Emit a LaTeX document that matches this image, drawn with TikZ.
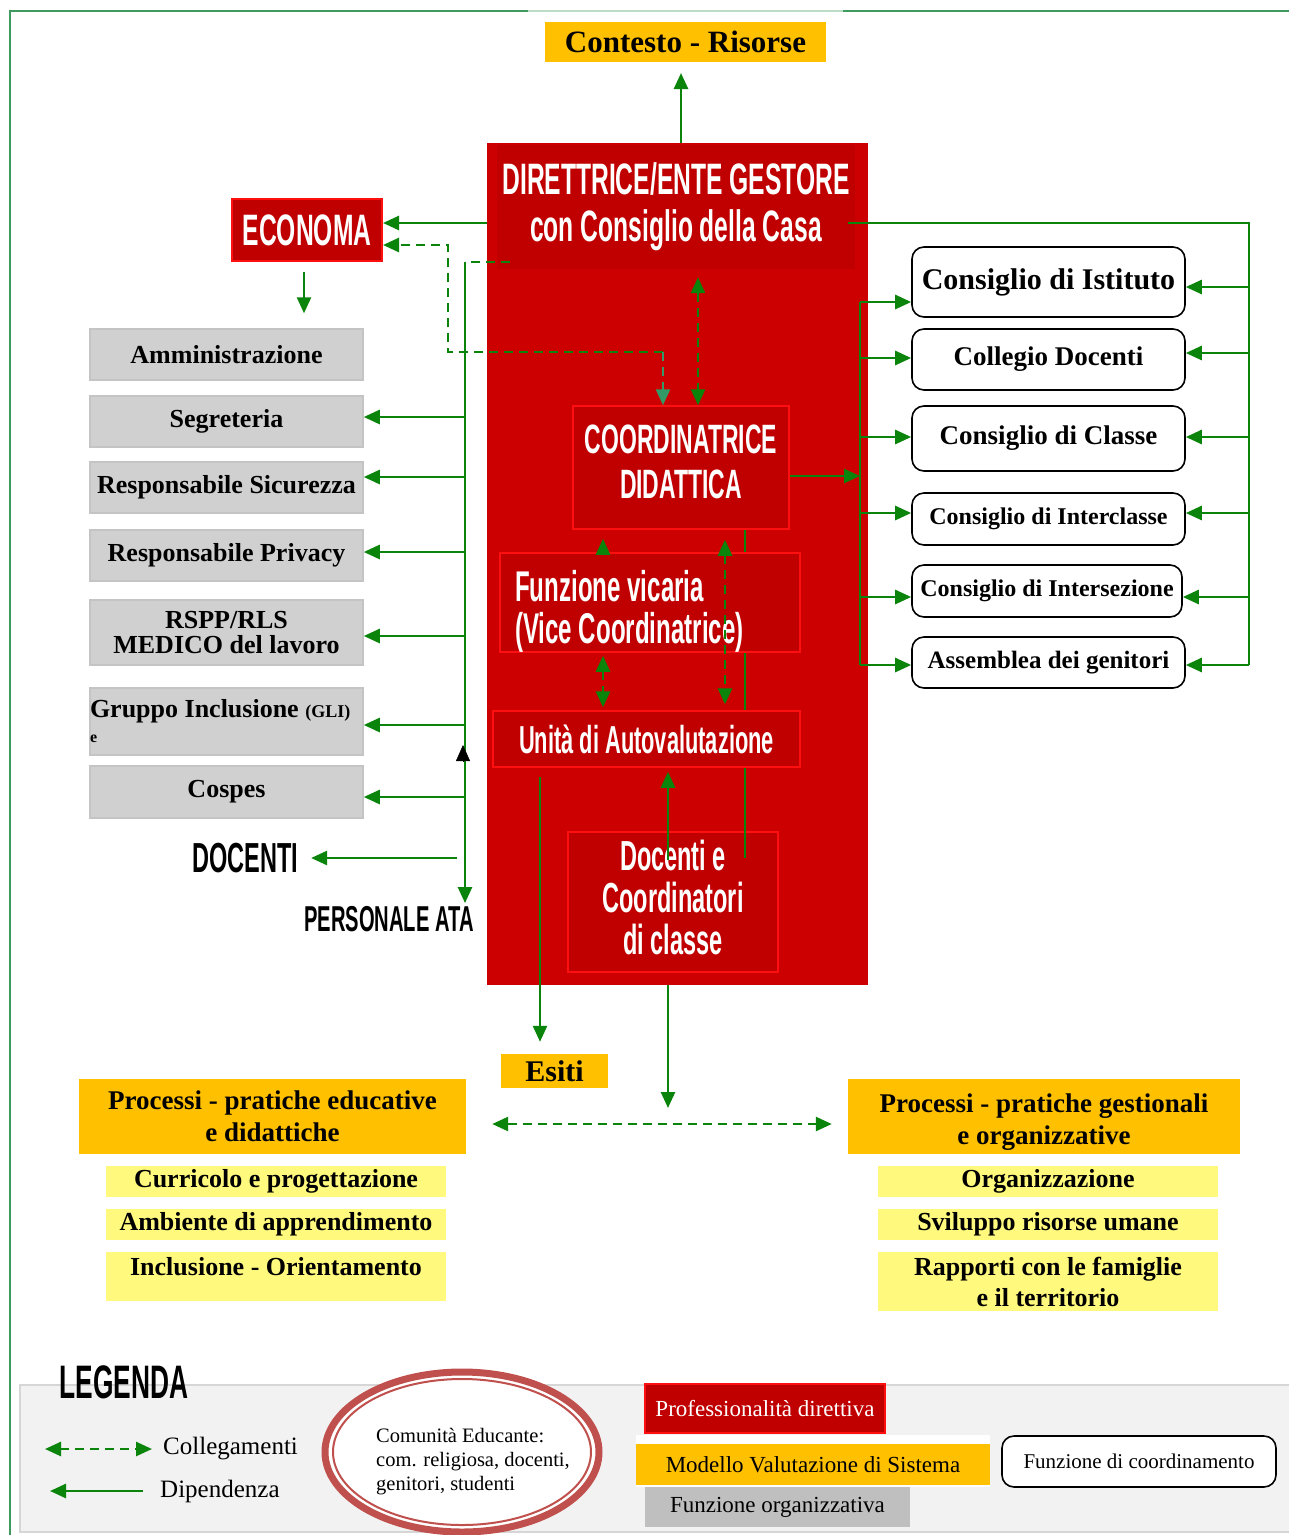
\documentclass[tikz,border=0pt]{standalone}
\usepackage{fontspec}
\setmainfont{Liberation Serif}
\newfontfamily\agency[FakeStretch=0.56]{Liberation Sans}
\usetikzlibrary{arrows.meta,positioning,shapes.geometric}
\definecolor{rossoA}{HTML}{CC0000}
\definecolor{rossoB}{HTML}{C00000}
\definecolor{rossoC}{HTML}{FF1010}
\definecolor{verde}{HTML}{0A840A}
\definecolor{verdeT}{HTML}{339966}
\definecolor{oro}{HTML}{FFC000}
\definecolor{giallo}{HTML}{FFF97E}
\definecolor{grigio}{HTML}{D0D0D0}
\definecolor{grigioB}{HTML}{C4C4C4}
\definecolor{grigioL}{HTML}{F2F2F2}
\definecolor{grigioO}{HTML}{BFBFBF}
\definecolor{cornice}{HTML}{3E9A5E}
\definecolor{cerchio}{HTML}{C0504D}
\newcommand\fsz[2]{\fontsize{#1}{#2}\selectfont}
\tikzset{
  punta/.tip={Triangle[length=16pt,width=14pt]},
  dip/.style={verde,line width=2.6pt,-punta},
  coll/.style={verde,line width=2.6pt,dash pattern=on 9pt off 6pt,punta-punta},
  filo/.style={verde,line width=2.6pt},
  rossobox/.style={fill=rossoB,draw=rossoC,line width=1.5pt,inner sep=0pt,text=white,align=center},
  bianco/.style={inner sep=0pt,text=white,align=center},
  grigiobox/.style={fill=grigio,draw=grigioB,line width=1.5pt,minimum width=273pt,inner sep=0pt,align=center,font=\fsz{26}{25}\bfseries},
  consbox/.style={draw=black,line width=1.6pt,rounded corners=12pt,fill=white,inner sep=0pt,minimum width=273pt},
  orobox/.style={fill=oro,inner sep=0pt,align=center,font=\fsz{27}{32}\bfseries},
  giallobox/.style={fill=giallo,inner sep=0pt,minimum width=340pt,align=center,font=\fsz{26}{31}\bfseries},
}
\begin{document}
\begin{tikzpicture}[x=1pt,y=-1pt]
\useasboundingbox (0,0) rectangle (1289,1535);
% cornice
\draw[cornice,line width=2.5pt] (10,1535) -- (10,11) -- (528,11);
\draw[cornice!35,line width=2.5pt] (528,11) -- (843,11);
\draw[cornice,line width=2.5pt] (843,11) -- (1289,11);

% contesto
\node[orobox,minimum width=281pt,minimum height=40pt,font=\fsz{31}{31}\bfseries] (contesto) at (685.5,42) {Contesto - Risorse};

% blocco centrale
\node[fill=rossoA,minimum width=381pt,minimum height=842pt,inner sep=0pt] (gestore) at (677.5,564) {};
\node[fill=rossoB,minimum width=358pt,minimum height=124pt,inner sep=0pt,text=white,align=center,font=\agency\bfseries\fsz{44}{47}] (direttrice) at (676,207) {DIRETTRICE/ENTE GESTORE\\con Consiglio della Casa};
\coordinate (cA) at (681,73);
\draw[dip] (gestore.north -| cA) -- (cA);

\node[rossobox,minimum width=216pt,minimum height=123pt] (coord) at (681,467.5) {};
\node[bianco,font=\agency\bfseries\fsz{41}{45}] (coordtesto) at (681,462) {COORDINATRICE\\DIDATTICA};
\node[rossobox,minimum width=210pt,minimum height=140pt] (docbox) at (673,902) {};
\node[bianco,font=\agency\bfseries\fsz{42}{42}] (doctesto) at (673,897) {Docenti e\\Coordinatori\\di classe};
\draw[filo] (coord.south -| 745,0) -- (745,858);
\node[rossobox,minimum width=300pt,minimum height=99pt] (vicaria) at (650,602.5) {};
\node[bianco,anchor=west,align=flush left,font=\agency\bfseries\fsz{43}{42}] (vicatesto) at (515,611) {Funzione vicaria\\(Vice Coordinatrice)};
\node[rossobox,minimum width=307pt,minimum height=56pt,font=\agency\bfseries\fsz{39}{39}] (unita) at (646.5,739) {Unità di Autovalutazione};

% economa
\node[rossobox,line width=2pt,minimum width=150pt,minimum height=62pt,font=\agency\bfseries\fsz{44}{44}] (economa) at (307,230) {ECONOMA};
\draw[dip] (gestore.west |- 0,223) -- (economa.east |- 0,223);
\draw[coll,-punta] (663,352) -- (448,352) -- (448,245) -- (economa.east |- 0,245);
\draw[coll,draw=verdeT,-punta] (663,352) -- (coord.north -| 663,0);
\draw[coll,-] (510,262) -- (465,262);

% colonna sinistra
\node[grigiobox,minimum height=51pt] (ammin) at (226.5,354.5) {Amministrazione};
\node[grigiobox,minimum height=51pt] (segr) at (226.5,421.5) {Segreteria};
\node[grigiobox,minimum height=51pt] (sicu) at (226.5,487.5) {Responsabile Sicurezza};
\node[grigiobox,minimum height=51pt] (priv) at (226.5,555.5) {Responsabile Privacy};
\node[grigiobox,minimum height=65pt] (rspp) at (226.5,632.5) {RSPP/RLS\\MEDICO del lavoro};
\node[grigiobox,minimum height=67pt,text width=273pt,align=flush left] (gli) at (226.5,721.5) {Gruppo Inclusione {\fsz{18}{18}(GLI)}\\{\fsz{16}{16}e}};
\node[grigiobox,minimum height=52pt] (cospes) at (226.5,792) {Cospes};
\node[inner sep=0pt,font=\agency\bfseries\fsz{42}{42}] (docenti) at (245,858) {DOCENTI};
\node[inner sep=0pt,font=\agency\bfseries\fsz{36}{36}] (ata) at (389,919) {PERSONALE ATA};

\draw[dip] ([yshift=-10pt]economa.south -| 304,0) -- ([yshift=15pt]ammin.north -| 304,0);
\draw[dip,shorten >=3pt] (465,262) -- (ata.north -| 465,0);
\foreach \n/\y in {segr/417,sicu/477,priv/552,rspp/636,gli/725,cospes/797}
  \draw[dip] (465,\y) -- (\n.east |- 0,\y);
\draw[dip,shorten >=13pt] (457,858) -- (docenti.east);
\draw[black,line width=0.5pt,-punta] (463,762) -- (463,745);

% collegamenti interni
\draw[coll,shorten <=8pt] (direttrice.south -| 698,0) -- (coord.north -| 698,0);
\draw[dip,shorten >=9pt] (vicaria.north -| 603,0) -- (coord.south -| 603,0);
\draw[coll,shorten <=10pt,shorten >=6pt] (coord.south -| 725,0) -- (unita.north -| 725,0);
\draw[coll,shorten <=3pt,shorten >=3pt] (vicaria.south -| 603,0) -- (unita.north -| 603,0);
\coordinate (dcA) at (668,860);
\draw[dip,shorten >=4pt] (dcA) -- (unita.south -| dcA);

% consigli
\node[consbox,minimum height=70pt,font=\fsz{30}{30}\bfseries] (ist) at (1048.5,282) {Consiglio di Istituto};
\node[consbox,minimum height=61pt,font=\fsz{27}{27}\bfseries] (colld) at (1048.5,359.5) {Collegio Docenti};
\node[consbox,minimum height=65pt,font=\fsz{27}{27}\bfseries] (cla) at (1048.5,438.5) {Consiglio di Classe};
\node[consbox,minimum height=52pt,font=\fsz{24}{24}\bfseries] (inter) at (1048.5,519) {Consiglio di Interclasse};
\node[consbox,minimum width=270pt,minimum height=52pt,font=\fsz{24}{24}\bfseries] (isez) at (1047,591) {Consiglio di Intersezione};
\node[consbox,minimum height=51pt,font=\fsz{25}{25}\bfseries] (ass) at (1048.5,662.5) {Assemblea dei genitori};

\draw[dip] (coord.east |- 0,476) -- (860,476);
\draw[filo] (860,302) -- (860,665);
\foreach \n/\y in {ist/302,colld/358,cla/437,inter/513,isez/597,ass/665}
  \draw[dip] (860,\y) -- (\n.west |- 0,\y);
\draw[filo] (848,223) -- (1249,223) -- (1249,665);
\foreach \n/\y in {ist/287,colld/353,cla/437,inter/513,isez/597,ass/665}
  \draw[dip] (1249,\y) -- (\n.east |- 0,\y);

% processi
\node[orobox,minimum width=107pt,minimum height=34pt,font=\fsz{30}{30}\bfseries] (esiti) at (554.5,1071) {Esiti};
\node[orobox,minimum width=387pt,minimum height=75pt] (educ) at (272.5,1116.5) {Processi - pratiche educative\\e didattiche};
\node[orobox,minimum width=392pt,minimum height=75pt] (gest) at (1044,1116.5) {\rule{0pt}{30pt}Processi - pratiche gestionali\\e organizzative};
\node[giallobox,minimum height=31pt] (curr) at (276,1181.5) {Curricolo e progettazione};
\node[giallobox,minimum height=31pt] (amb) at (276,1224.5) {Ambiente di apprendimento};
\node[giallobox,text height=23pt,text depth=26pt] (incl) at (276,1276.5) {Inclusione - Orientamento};
\node[giallobox,minimum height=31pt] (org) at (1048,1181.5) {Organizzazione};
\node[giallobox,minimum height=31pt] (svil) at (1048,1224.5) {Sviluppo risorse umane};
\node[giallobox,minimum height=59pt] (rapp) at (1048,1281.5) {Rapporti con le famiglie\\e il territorio};

\draw[dip,shorten <=9pt,shorten >=12pt] (unita.south -| 540,0) -- (esiti.north -| 540,0);
\coordinate (nodo) at (668,1108);
\draw[dip] (gestore.south -| nodo) -- (nodo);
\draw[coll,shorten <=26pt,shorten >=16pt] (educ.east |- 0,1124) -- (gest.west |- 0,1124);

% legenda
\fill[grigioL,draw=grigioB!70,line width=2pt] (20,1385) rectangle (1295,1532);
\node[inner sep=0pt,font=\agency\bfseries\fsz{47}{47}] (legenda) at (124,1382) {LEGENDA};
\node[anchor=west,inner sep=0pt,font=\fsz{25}{25}] (lcoll) at (163,1449) {Collegamenti};
\node[anchor=west,inner sep=0pt,font=\fsz{25}{25}] (ldip) at (160,1491) {Dipendenza};
\coordinate (lcA) at (45,1449);
\draw[coll,shorten >=11pt] (lcA) -- (lcoll.west);
\coordinate (ldB) at (50,1491);
\draw[dip,shorten <=17pt] (ldip.west) -- (ldB);

\node[ellipse,draw=cerchio,line width=7pt,fill=white,minimum width=274pt,minimum height=160pt,inner sep=0pt] (comunita) at (462,1452) {};
\draw[cerchio,line width=2pt] (comunita.center) ellipse (129 and 73);
\node[inner sep=0pt,align=left,font=\fsz{20.5}{24}] (comtesto) at (473,1462) {Comunità Educante:\\com. religiosa, docenti,\\genitori, studenti};

\node[rossobox,minimum width=240pt,minimum height=49pt,font=\fsz{23}{23}] (prof) at (765,1408.5) {Professionalità direttiva};
\fill[white] (636,1435) rectangle (990,1487);
\node[fill=oro,minimum width=354pt,minimum height=41pt,inner sep=0pt,font=\fsz{23}{23}] (modello) at (813,1464.5) {Modello Valutazione di Sistema};
\node[fill=grigioO,minimum width=265pt,minimum height=40pt,inner sep=0pt,font=\fsz{23}{23}] (forg) at (777.5,1507) {Funzione organizzativa};
\node[consbox,minimum width=274pt,minimum height=51pt,font=\fsz{21}{21}] (fcoord) at (1139,1461.5) {Funzione di coordinamento};
\end{tikzpicture}
\end{document}
